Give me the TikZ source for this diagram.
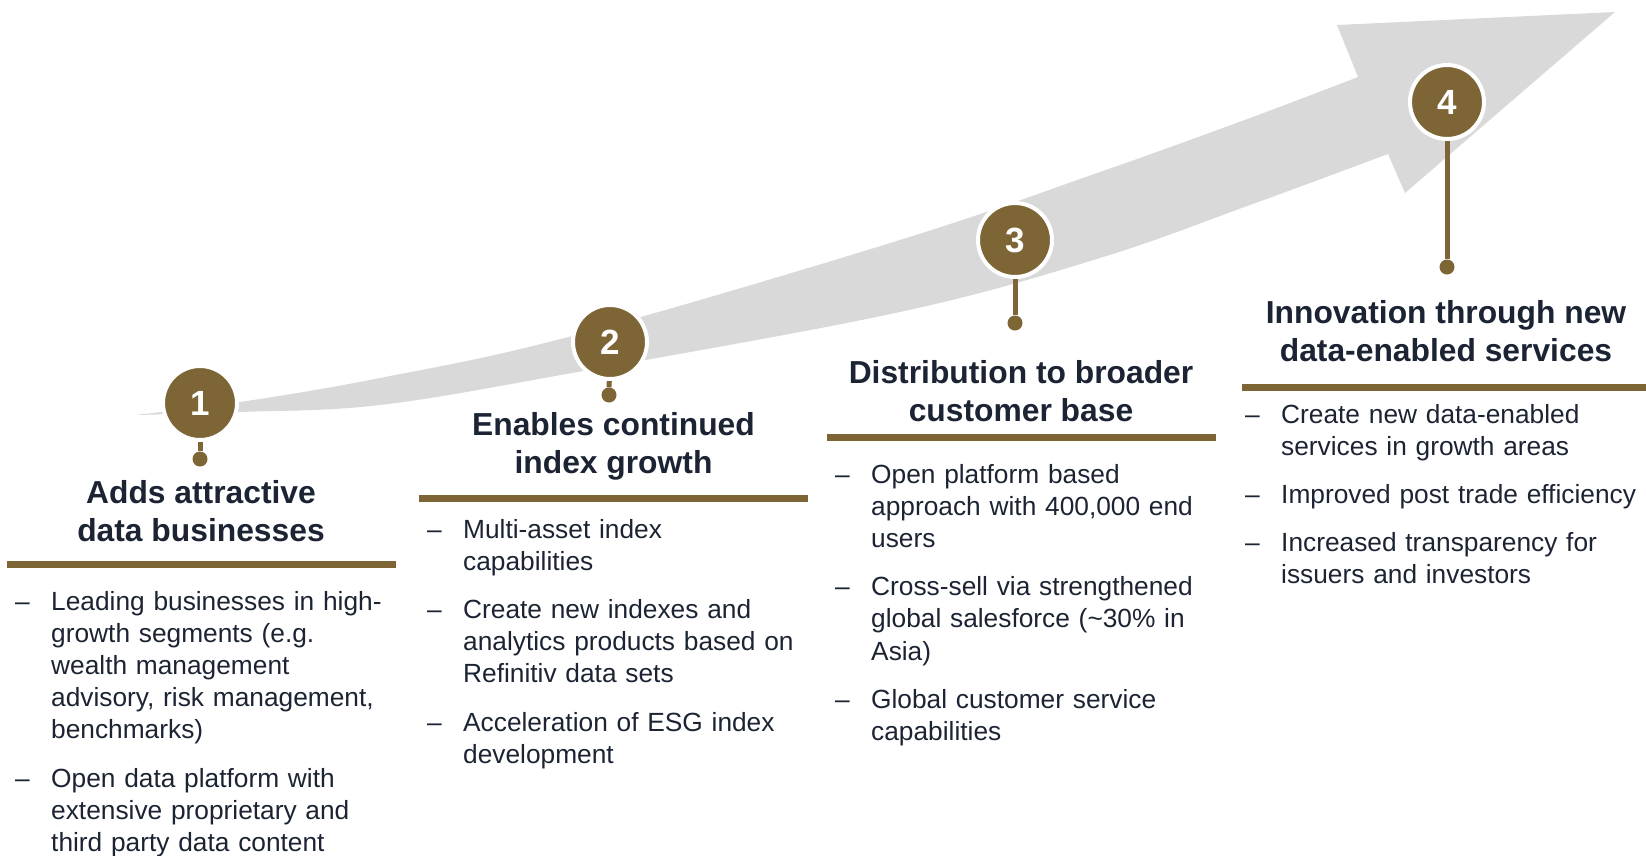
\documentclass[tikz,border=0pt]{standalone}
\usepackage{fontspec}
\setmainfont{Liberation Sans}
\definecolor{brownc}{HTML}{7E6536}
\definecolor{txt}{HTML}{1C2434}
\definecolor{arrowgray}{HTML}{D9D9D9}
\newcommand\bitem[1]{\noindent\hangindent=36pt\hangafter=1\makebox[36pt][l]{–}#1\par}
\newcommand\gap{\par\vspace{16pt}}
\begin{document}
\begin{tikzpicture}[x=1pt,y=-1pt,
  numcircle/.style={circle, fill=brownc, draw=white, line width=4pt, minimum size=74pt, inner sep=0pt, text=white, font=\fontsize{35}{35}\selectfont\bfseries},
  enddot/.style={circle, fill=brownc, minimum size=15pt, inner sep=0pt},
  stemline/.style={draw=brownc, line width=5pt},
  barline/.style={fill=brownc},
  heading/.style={align=center, text=txt, font=\fontsize{31.8}{38}\selectfont\bfseries, inner sep=0pt, anchor=base},
  body/.style={text=txt, font=\fontsize{26.3}{32.2}\selectfont, inner sep=0pt, anchor=base west, align=left, text width=420pt, execute at begin node={\setlength{\parskip}{0pt}\setlength{\parindent}{0pt}}},
]
\useasboundingbox (0,0) rectangle (1646,855);
% big arrow
\fill[arrowgray] plot[smooth, tension=0.6] coordinates {(135,415) (240,402) (380,378) (572,336) (900,240) (1100,172) (1250,118) (1358,77)}
  -- (1337,25) -- (1615,12) -- (1405,193) -- (1388,154)
  -- plot[smooth, tension=0.6] coordinates {(1388,154) (1250,205) (1100,258) (900,312) (572,373) (380,405) (240,412) (135,415)} -- cycle;
% circle centres
\coordinate (p1) at (200,403);
\coordinate (p2) at (610,342);
\coordinate (p3) at (1015,240);
\coordinate (p4) at (1447,102);
% end dots
\node[enddot] (d1) at (200,459) {};
\node[enddot] (d2) at (609,395) {};
\node[enddot] (d3) at (1015,323) {};
\node[enddot] (d4) at (1447,267) {};
% stems
\draw[stemline] (p1) -- (d1);
\draw[stemline] (p2) -- (d2);
\draw[stemline] (p3) -- (d3);
\draw[stemline] (p4) -- (d4);
% circles
\node[numcircle] (c1) at (p1) {1};
\node[numcircle] (c2) at (p2) {2};
\node[numcircle] (c3) at (p3) {3};
\node[numcircle] (c4) at (p4) {4};
% bars
\fill[barline] (7,560.5) rectangle (396,567.5);
\fill[barline] (419,494.5) rectangle (808,501.5);
\fill[barline] (827,433.5) rectangle (1216,440.5);
\fill[barline] (1242,383.5) rectangle (1651,390.5);
% headings (base = last line)
\node[heading] (h1) at (201,541) {Adds attractive\\data businesses};
\node[heading] (h2) at (613.5,473) {Enables continued\\index growth};
\node[heading] (h3) at (1021,421) {Distribution to broader\\customer base};
\node[heading] (h4) at (1446,361) {Innovation through new\\data-enabled services};
% bullet columns
\node[body] (b1) at (15,610) {%
\bitem{Leading businesses in high-\newline growth segments (e.g.\newline wealth management\newline advisory, risk management,\newline benchmarks)}\gap
\bitem{Open data platform with\newline extensive proprietary and\newline third party data content}};
\node[body] (b2) at (427,538) {%
\bitem{Multi-asset index\newline capabilities}\gap
\bitem{Create new indexes and\newline analytics products based on\newline Refinitiv data sets}\gap
\bitem{Acceleration of ESG index\newline development}};
\node[body] (b3) at (835,483) {%
\bitem{Open platform based\newline approach with 400,000 end\newline users}\gap
\bitem{Cross-sell via strengthened\newline global salesforce (\textasciitilde30\% in\newline Asia)}\gap
\bitem{Global customer service\newline capabilities}};
\node[body] (b4) at (1245,423) {%
\bitem{Create new data-enabled\newline services in growth areas}\gap
\bitem{Improved post trade efficiency}\gap
\bitem{Increased transparency for\newline issuers and investors}};
\end{tikzpicture}
\end{document}
